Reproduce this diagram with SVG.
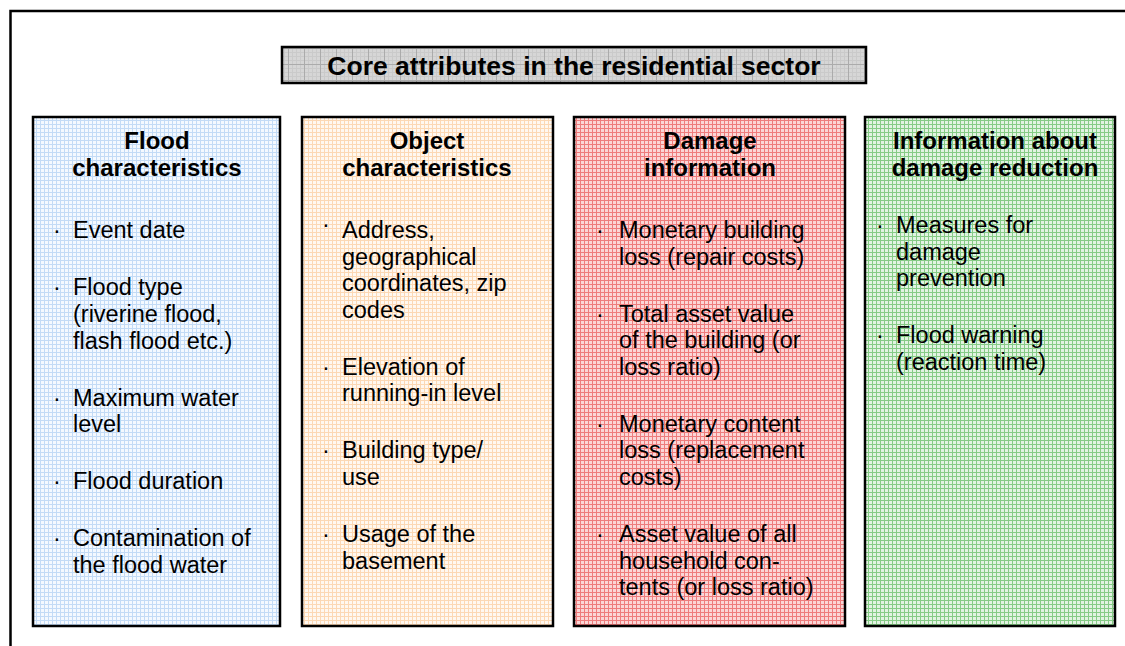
<svg xmlns="http://www.w3.org/2000/svg" width="1125" height="646" viewBox="0 0 1125 646">
  <defs>
    <!-- fine grid fills for the four attribute columns -->
    <pattern id="gridBlue" width="4" height="4" patternUnits="userSpaceOnUse">
      <rect width="4" height="4" fill="#f4f9ff"/>
      <rect width="4" height="1" fill="#c3dbf6"/>
      <rect width="1" height="4" fill="#c3dbf6"/>
    </pattern>
    <pattern id="gridOrange" width="4" height="4" patternUnits="userSpaceOnUse">
      <rect width="4" height="4" fill="#fff8f0"/>
      <rect width="4" height="1" fill="#fcd8b4"/>
      <rect width="1" height="4" fill="#fcd8b4"/>
    </pattern>
    <pattern id="gridRed" width="4" height="4" patternUnits="userSpaceOnUse">
      <rect width="4" height="4" fill="#fbd6d6"/>
      <rect width="4" height="1" fill="#ee7c7c"/>
      <rect width="1" height="4" fill="#ee7c7c"/>
    </pattern>
    <pattern id="gridGreen" width="4" height="4" patternUnits="userSpaceOnUse">
      <rect width="4" height="4" fill="#e2f3e2"/>
      <rect width="4" height="1" fill="#86cb86"/>
      <rect width="1" height="4" fill="#86cb86"/>
    </pattern>
    <!-- grey title fill: fine texture plus a coarser grid -->
    <pattern id="gridGrey" width="16" height="16" patternUnits="userSpaceOnUse">
      <rect width="16" height="16" fill="#d6d6d6"/>
      <path d="M0 4.5H16M0 8.5H16M0 12.5H16M4.5 0V16M8.5 0V16M12.5 0V16" stroke="#cacaca" stroke-width="1"/>
      <rect width="16" height="1" fill="#ababab"/>
      <rect width="1" height="16" fill="#ababab"/>
    </pattern>
  </defs>
  <style>
    .frame { fill: none; stroke: #000; stroke-width: 2.5; }
    .box { stroke: #000; stroke-width: 2.5; }
    .title { font-family: "Liberation Sans", Arial, sans-serif; font-weight: bold; font-size: 26.5px; fill: #000; text-anchor: middle; }
    .head { font-family: "Liberation Sans", Arial, sans-serif; font-weight: bold; font-size: 24px; fill: #000; text-anchor: middle; }
    .item { font-family: "Liberation Sans", Arial, sans-serif; font-size: 23.5px; fill: #000; }
  </style>

  <rect width="1125" height="646" fill="#ffffff"/>

  <!-- outer frame (open to the right and bottom) -->
  <path class="frame" d="M10.5 646 V11 H1125"/>

  <g id="title">
    <rect class="box" x="282" y="47" width="584" height="36" fill="url(#gridGrey)"/>
    <text class="title" x="574" y="75">Core attributes in the residential sector</text>
  </g>

  <g id="flood-characteristics">
    <rect class="box" x="33" y="117" width="247" height="509" fill="url(#gridBlue)"/>
    <text class="head" x="157" y="149">Flood</text>
    <text class="head" x="157" y="176">characteristics</text>
    <text class="item" x="53" y="238">·</text>
    <text class="item" x="73" y="238">Event date</text>
    <text class="item" x="53" y="295">·</text>
    <text class="item" x="73" y="295">Flood type</text>
    <text class="item" x="73" y="322">(riverine flood,</text>
    <text class="item" x="73" y="348.5">flash flood etc.)</text>
    <text class="item" x="53" y="405.5">·</text>
    <text class="item" x="73" y="405.5">Maximum water</text>
    <text class="item" x="73" y="432">level</text>
    <text class="item" x="53" y="489">·</text>
    <text class="item" x="73" y="489">Flood duration</text>
    <text class="item" x="53" y="546">·</text>
    <text class="item" x="73" y="546">Contamination of</text>
    <text class="item" x="73" y="572.5">the flood water</text>
  </g>

  <g id="object-characteristics">
    <rect class="box" x="302" y="117" width="251" height="509" fill="url(#gridOrange)"/>
    <text class="head" x="427" y="149">Object</text>
    <text class="head" x="427" y="176">characteristics</text>
    <text class="item" x="322" y="232">·</text>
    <text class="item" x="342" y="238">Address,</text>
    <text class="item" x="342" y="264.6">geographical</text>
    <text class="item" x="342" y="291.2">coordinates, zip</text>
    <text class="item" x="342" y="317.8">codes</text>
    <text class="item" x="322" y="374.8">·</text>
    <text class="item" x="342" y="374.8">Elevation of</text>
    <text class="item" x="342" y="401.4">running-in level</text>
    <text class="item" x="322" y="458.4">·</text>
    <text class="item" x="342" y="458.4">Building type/</text>
    <text class="item" x="342" y="485">use</text>
    <text class="item" x="322" y="542">·</text>
    <text class="item" x="342" y="542">Usage of the</text>
    <text class="item" x="342" y="568.6">basement</text>
  </g>

  <g id="damage-information">
    <rect class="box" x="574" y="117" width="271" height="509" fill="url(#gridRed)"/>
    <text class="head" x="710" y="149">Damage</text>
    <text class="head" x="710" y="176">information</text>
    <text class="item" x="596" y="238">·</text>
    <text class="item" x="619" y="238">Monetary building</text>
    <text class="item" x="619" y="264.6">loss (repair costs)</text>
    <text class="item" x="596" y="321.6">·</text>
    <text class="item" x="619" y="321.6">Total asset value</text>
    <text class="item" x="619" y="348.2">of the building (or</text>
    <text class="item" x="619" y="374.8">loss ratio)</text>
    <text class="item" x="596" y="431.8">·</text>
    <text class="item" x="619" y="431.8">Monetary content</text>
    <text class="item" x="619" y="458.4">loss (replacement</text>
    <text class="item" x="619" y="485">costs)</text>
    <text class="item" x="596" y="542">·</text>
    <text class="item" x="619" y="542">Asset value of all</text>
    <text class="item" x="619" y="568.6">household con-</text>
    <text class="item" x="619" y="595.2">tents (or loss ratio)</text>
  </g>

  <g id="damage-reduction">
    <rect class="box" x="865" y="117" width="250" height="509" fill="url(#gridGreen)"/>
    <text class="head" x="995" y="149">Information about</text>
    <text class="head" x="995" y="176">damage reduction</text>
    <text class="item" x="876" y="233">·</text>
    <text class="item" x="896" y="233">Measures for</text>
    <text class="item" x="896" y="259.6">damage</text>
    <text class="item" x="896" y="286.2">prevention</text>
    <text class="item" x="876" y="343.2">·</text>
    <text class="item" x="896" y="343.2">Flood warning</text>
    <text class="item" x="896" y="369.8">(reaction time)</text>
  </g>
</svg>
